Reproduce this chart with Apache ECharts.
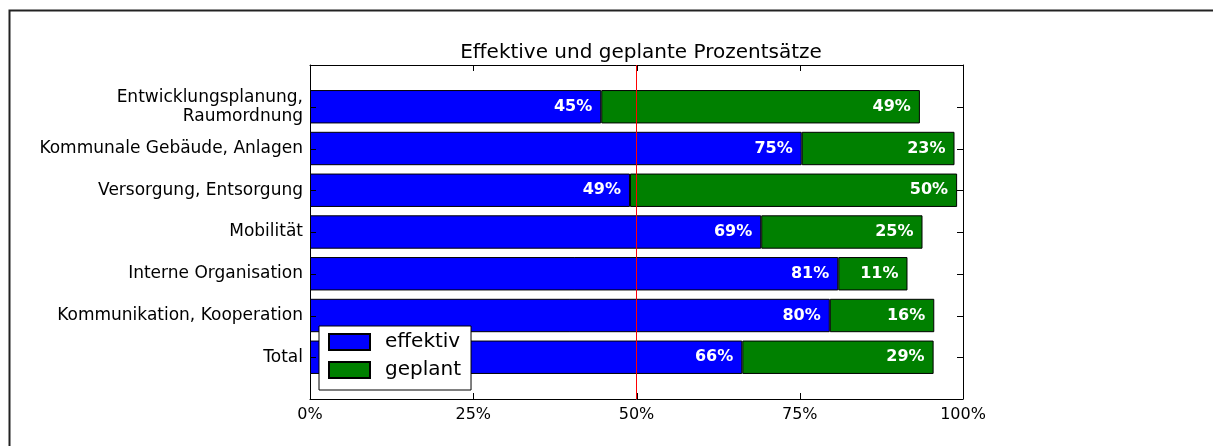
<!DOCTYPE html>
<html>
<head>
<meta charset="utf-8">
<script src="https://cdn.jsdelivr.net/npm/echarts@6/dist/echarts.min.js"></script>
<style>
  html, body { margin: 0; padding: 0; background: #fff; }
  #chart { width: 1213px; height: 446px; }
</style>
</head>
<body>
<div id="chart"></div>
<script>
// Kategorien (oben nach unten)
const categories = [
    'Entwicklungsplanung,\nRaumordnung',
    'Kommunale Gebäude, Anlagen',
    'Versorgung, Entsorgung',
    'Mobilität',
    'Interne Organisation',
    'Kommunikation, Kooperation',
    'Total'
]
const effektiv = [44.6, 75.3, 49.0, 69.1, 80.9, 79.6, 66.2]
const geplant = [48.8, 23.4, 50.1, 24.7, 10.6, 16.0, 29.3]
const xTicks = [0, 25, 50, 75, 100]
const referenceLine = 50

const font = 'DejaVu Sans'
const TICK = 6

// Achse läuft von unten nach oben, daher umdrehen; leere Kategorien an beiden Enden
// geben den halben Abstand zum Rahmen
const pad = (arr) => [null].concat(arr.slice().reverse(), [null])
const axisCats = [''].concat(categories.slice().reverse(), [''])
const xMin = xTicks[0]
const xMax = xTicks[xTicks.length - 1]
const lastCat = axisCats.length - 1

const chart = echarts.init(document.getElementById('chart'))

const barLabel = {
    show: true,
    position: 'insideRight',
    distance: 9,
    color: '#fff',
    fontWeight: 'bold',
    fontSize: 16,
    fontFamily: font,
    formatter: (p) => p.value == null ? '' : Math.round(p.value) + '%'
}

const frameLine = { show: true, onZero: false, lineStyle: { color: '#000', width: 1 } }
const tickStyle = { stroke: '#000', lineWidth: 1 }

// Ticks nach innen (wie matplotlib), gezeichnet über die Achsen-Skalen
const line = (x1, y1, x2, y2) => ({
    type: 'line',
    shape: { x1: x1, y1: y1, x2: x2, y2: y2 },
    style: tickStyle
})

const yTickItem = (params, api) => {
    const l = api.coord([xMin, api.value(1)])
    const r = api.coord([xMax, api.value(1)])
    const y = Math.round(l[1]) + 0.5
    return {
        type: 'group',
        children: [line(l[0], y, l[0] + TICK, y), line(r[0], y, r[0] - TICK, y)]
    }
}

const xTickItem = (params, api) => {
    const b = api.coord([api.value(0), 0])
    const t = api.coord([api.value(0), lastCat])
    const x = Math.round(b[0]) + 0.5
    return {
        type: 'group',
        children: [line(x, b[1], x, b[1] - TICK), line(x, t[1], x, t[1] + TICK)]
    }
}

chart.setOption({
    animation: false,
    backgroundColor: '#fff',
    title: {
        text: 'Effektive und geplante Prozentsätze',
        left: 636,
        textAlign: 'center',
        top: 38,
        textStyle: { fontFamily: font, fontSize: 20, fontWeight: 'normal', color: '#000' }
    },
    graphic: [{
        type: 'rect',
        left: 7,
        top: 8,
        z: -10,
        shape: { width: 1400, height: 600 },
        style: { fill: 'none', stroke: '#222', lineWidth: 2 }
    }],
    legend: {
        orient: 'vertical',
        left: 319,
        top: 326,
        z: 10,
        itemWidth: 41,
        itemHeight: 16,
        itemGap: 8,
        padding: [6, 10, 10, 9],
        borderColor: '#000',
        borderWidth: 1,
        borderRadius: 0,
        backgroundColor: '#fff',
        icon: 'rect',
        textStyle: { fontFamily: font, fontSize: 20, color: '#000', padding: [0, 0, 0, 10] },
        data: ['effektiv', 'geplant']
    },
    grid: { left: 310, top: 65, width: 653, height: 334 },
    xAxis: [
        {
            type: 'value',
            min: xMin,
            max: xMax,
            interval: 25,
            position: 'bottom',
            splitLine: { show: false },
            axisLine: frameLine,
            axisTick: { show: false },
            axisLabel: {
                margin: 8,
                fontFamily: font,
                fontSize: 16,
                color: '#000',
                formatter: (v) => v + '%'
            }
        },
        {
            type: 'value',
            min: xMin,
            max: xMax,
            interval: 25,
            position: 'top',
            splitLine: { show: false },
            axisLine: frameLine,
            axisTick: { show: false },
            axisLabel: { show: false }
        }
    ],
    yAxis: [
        {
            type: 'category',
            data: axisCats,
            boundaryGap: false,
            position: 'left',
            axisLine: frameLine,
            axisTick: { show: false },
            axisLabel: {
                interval: 0,
                margin: 7,
                fontFamily: font,
                fontSize: 17,
                lineHeight: 19,
                color: '#000',
                align: 'right'
            }
        },
        {
            type: 'category',
            data: axisCats,
            boundaryGap: false,
            position: 'right',
            axisLine: frameLine,
            axisTick: { show: false },
            axisLabel: { show: false }
        }
    ],
    series: [
        {
            name: 'effektiv',
            type: 'bar',
            stack: 'total',
            barWidth: '80%',
            data: pad(effektiv),
            itemStyle: { color: '#0000ff', borderColor: '#000', borderWidth: 1 },
            label: barLabel,
            markLine: {
                silent: true,
                symbol: 'none',
                label: { show: false },
                lineStyle: { color: '#ff0000', width: 1, type: 'solid' },
                data: [{ xAxis: referenceLine }]
            }
        },
        {
            name: 'geplant',
            type: 'bar',
            stack: 'total',
            barWidth: '80%',
            data: pad(geplant),
            itemStyle: { color: '#008000', borderColor: '#000', borderWidth: 1 },
            label: barLabel
        },
        {
            name: 'yTicks',
            type: 'custom',
            z: 5,
            silent: true,
            clip: false,
            renderItem: yTickItem,
            data: axisCats.map((c, i) => [xMin, i])
        },
        {
            name: 'xTicks',
            type: 'custom',
            z: 5,
            silent: true,
            clip: false,
            renderItem: xTickItem,
            data: xTicks.slice(1, -1).map((v) => [v, 0])
        }
    ]
})
</script>
</body>
</html>
